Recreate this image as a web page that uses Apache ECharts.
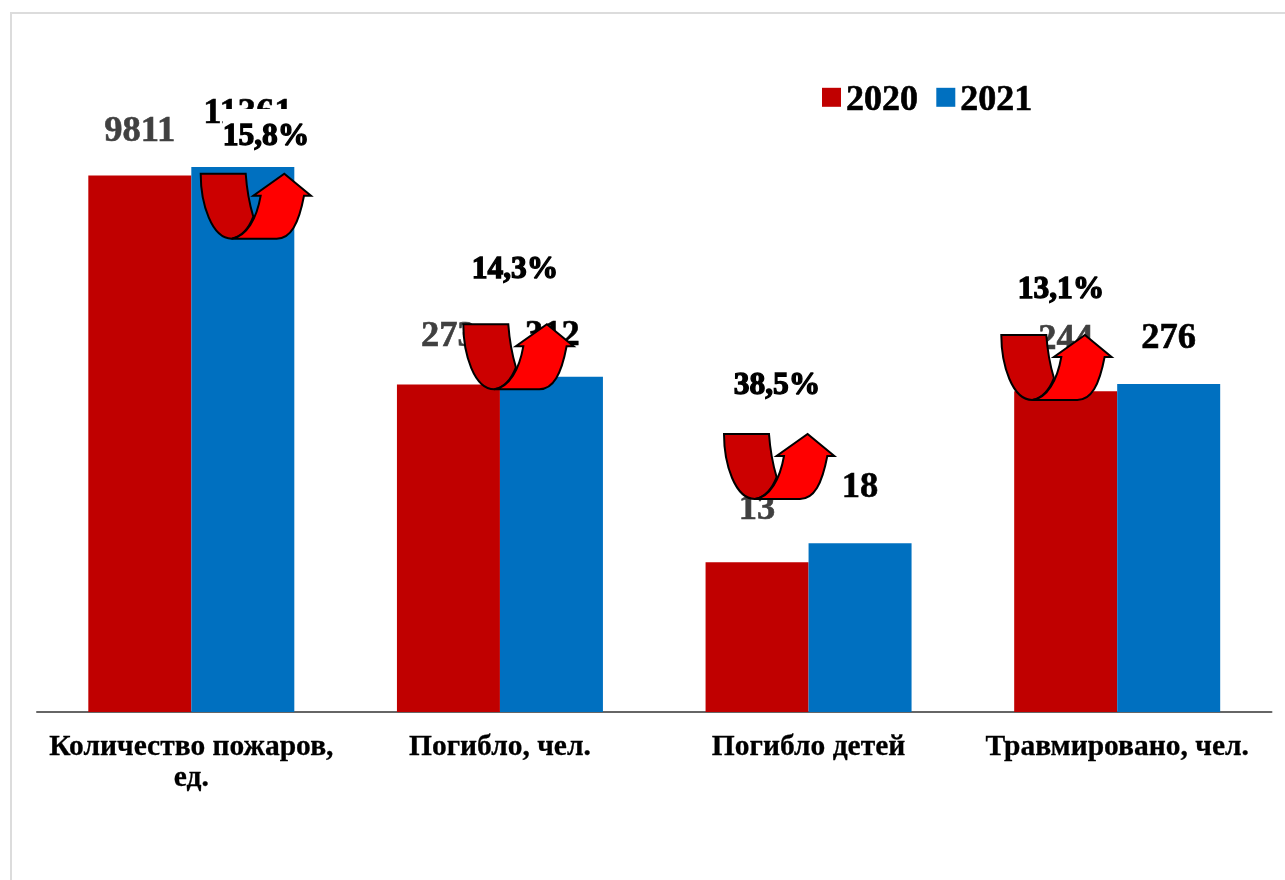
<!DOCTYPE html>
<html><head><meta charset="utf-8">
<style>html,body{margin:0;padding:0;background:#fff}#c{width:1285px;height:880px}</style>
<script src="https://cdn.jsdelivr.net/npm/echarts@6/dist/echarts.min.js"></script>
</head><body><div id="c"></div>
<script>
const categories = ["Количество пожаров,\nед.", "Погибло, чел.", "Погибло детей", "Травмировано, чел."];
const years = ["2020", "2021"];
const values2020 = [9811, 273, 13, 244];
const values2021 = [11361, 312, 18, 276];
const changes = ["15,8%", "14,3%", "38,5%", "13,1%"];

const FONT = '"Liberation Serif","Times New Roman",serif';
const gaps2020 = [25, 30, 34, 33];
const gaps2021 = [35, 23, 37, 27];
const shifts2021 = [5, 1, 0, 0];
const arrowAt = [[200.7,173.7],[463.3,324.3],[724,434],[1001.3,335]];
const changeAt = [[266,137],[515,270],[777,385.5],[1061,290]];

function labelled(vals, gaps, shifts){
  return vals.map((v,i)=>({value:v,label:{distance:gaps[i],offset:[shifts?shifts[i]:0,0]}}));
}
const g = [];
changes.forEach((t,i)=>{
  g.push({type:'text',z:50,x:changeAt[i][0],y:changeAt[i][1],
    style:{text:t,fill:'#000',stroke:'#000',lineWidth:1.3,font:'bold 31.5px '+FONT,
      align:'center',verticalAlign:'middle',
      backgroundColor:'#fff',padding:[11,0,13,0]}});
});
g.push({type:'rect',z:0,shape:{x:11,y:13,width:1300,height:900},style:{fill:'none',stroke:'#dcdcdc',lineWidth:2}});

function drawArrow(params){
  const p = arrowAt[params.dataIndex];
  return {type:'group',children:[
    {type:'path',
     shape:{pathData:'M0,0 L45,0 C46,14 49,31 52.6,43 C48,55 41,63 31,65 C11,65 0,30 0,0 Z',
       x:p[0],y:p[1],width:52.6,height:65,layout:'cover'},
     style:{fill:'#CC0000',stroke:'#000',lineWidth:2}},
    {type:'path',
     shape:{pathData:'M31,65 C46,63 56,45 60,22 L52.6,22 L83.6,0 L110.3,22 L103.3,22 C98,50 90,65 76,65 Z',
       x:p[0]+31,y:p[1],width:79.3,height:65,layout:'cover'},
     style:{fill:'#FF0000',stroke:'#000',lineWidth:2}}
  ]};
}

const chart = echarts.init(document.getElementById('c'),null,{renderer:'canvas'});
chart.setOption({
  animation:false,
  backgroundColor:'#fff',
  textStyle:{fontFamily:FONT},
  legend:{left:817,top:77,itemWidth:19,itemHeight:19,itemGap:18,icon:'rect',
    data:years,
    formatter:'{a|{name}}',
    textStyle:{rich:{a:{fontFamily:FONT,fontWeight:'bold',fontSize:36,color:'#000',
      textBorderColor:'#000',textBorderWidth:0.6,padding:[6,0,0,0]}}}},
  grid:{left:37,right:13.5,top:40,bottom:168,containLabel:false},
  xAxis:{type:'category',data:categories,
    axisTick:{show:false},
    axisLine:{lineStyle:{color:'#666',width:2}},
    axisLabel:{interval:0,margin:20,color:'#000',fontFamily:FONT,fontWeight:'bold',fontSize:29.5,lineHeight:31,
      textBorderColor:'#000',textBorderWidth:0.3}},
  yAxis:{type:'log',logBase:10,min:1,max:100000,show:false,splitLine:{show:false}},
  series:[
    {name:years[0],type:'bar',barWidth:103,barGap:0,itemStyle:{color:'#C00000'},
      label:{show:true,position:'top',color:'#404040',fontFamily:FONT,fontWeight:'bold',fontSize:36.5,
        textBorderColor:'#404040',textBorderWidth:0.6},
      data:labelled(values2020,gaps2020)},
    {name:years[1],type:'bar',barWidth:103,barGap:0,itemStyle:{color:'#0070C0'},
      label:{show:true,position:'top',color:'#000',fontFamily:FONT,fontWeight:'bold',fontSize:36.5,
        textBorderColor:'#000',textBorderWidth:0.6},
      data:labelled(values2021,gaps2021,shifts2021)},
    {name:'arrows',type:'custom',z:60,clip:false,silent:true,renderItem:drawArrow,
      data:changes.map((c,i)=>[i]),encode:{x:0}}
  ],
  graphic:{elements:g}
});
</script></body></html>
